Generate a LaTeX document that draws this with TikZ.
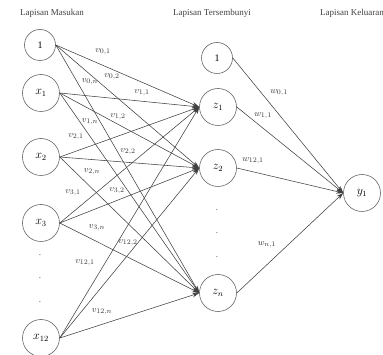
\documentclass[tikz,border=0pt]{standalone}
\usepackage{fontspec}
\setmainfont{Liberation Serif}
\usetikzlibrary{arrows.meta}
\begin{document}
\begin{tikzpicture}[x=1pt,y=-1pt,
  neuron/.style={circle,draw=black!60,line width=0.6pt,minimum size=37pt,inner sep=0pt,font=\large},
  bias/.style={neuron,minimum size=31pt,font=\normalsize},
  conn/.style={draw=black!75,line width=0.55pt,-{Stealth[length=7pt,width=4.5pt]}},
  wlab/.style={font=\fontsize{9.5}{11}\selectfont,text=black!80,inner sep=1pt},
  head/.style={font=\small,text=black!75},
  dotlab/.style={font=\small,text=black!70}]
\useasboundingbox (0,0) rectangle (383,355);
% headers
\node[head] (h1) at (52,13) {Lapisan Masukan};
\node[head] (h2) at (212,13) {Lapisan Tersembunyi};
\node[head] (h3) at (352,13) {Lapisan Keluaran};
% input layer
\node[bias] (i0) at (40,45) {1};
\node[neuron] (i1) at (41,93) {$x_1$};
\node[neuron] (i2) at (41,157) {$x_2$};
\node[neuron] (i3) at (41,223) {$x_3$};
\node[neuron] (i12) at (41,338) {$x_{12}$};
\node[dotlab] (d1) at (40,255) {.};
\node[dotlab] (d2) at (40,278) {.};
\node[dotlab] (d3) at (40,302) {.};
% hidden layer
\node[bias] (h0) at (217,58) {1};
\node[neuron] (z1) at (218,107) {$z_1$};
\node[neuron] (z2) at (218,168) {$z_2$};
\node[neuron] (zn) at (218,293) {$z_n$};
\node[dotlab] (e1) at (217,210) {.};
\node[dotlab] (e2) at (217,233) {.};
\node[dotlab] (e3) at (217,257) {.};
% output
\node[neuron] (y1) at (362,193) {$y_1$};
% input -> hidden
\foreach \s in {i0,i1,i2,i3,i12}{
  \foreach \t in {z1,z2,zn}{
    \draw[conn] (\s.east) -- (\t.west);
  }
}
% hidden -> output
\foreach \s in {h0,z1,z2,zn}{
  \draw[conn] (\s.east) -- (y1.west);
}
% labels input->hidden
\node[wlab] (l01) at (103,52) {$v_{0,1}$};
\node[wlab] (l02) at (112,77) {$v_{0,2}$};
\node[wlab] (l0n) at (90,82) {$v_{0,n}$};
\node[wlab] (l11) at (142,93) {$v_{1,1}$};
\node[wlab] (l12) at (118,117) {$v_{1,2}$};
\node[wlab] (l1n) at (90,122) {$v_{1,n}$};
\node[wlab] (l21) at (76,137) {$v_{2,1}$};
\node[wlab] (l22) at (128,152) {$v_{2,2}$};
\node[wlab] (l2n) at (92,172) {$v_{2,n}$};
\node[wlab] (l31) at (73,193) {$v_{3,1}$};
\node[wlab] (l32) at (117,191) {$v_{3,2}$};
\node[wlab] (l3n) at (97,228) {$v_{3,n}$};
\node[wlab] (l122) at (128,243) {$v_{12,2}$};
\node[wlab] (l121) at (85,263) {$v_{12,1}$};
\node[wlab] (l12n) at (102,312) {$v_{12,n}$};
% labels hidden->output
\node[wlab] (w01) at (279,93) {$w_{0,1}$};
\node[wlab] (w11) at (263,116) {$w_{1,1}$};
\node[wlab] (w121) at (253,161) {$w_{12,1}$};
\node[wlab] (wn1) at (267,245) {$w_{n,1}$};
\end{tikzpicture}
\end{document}
